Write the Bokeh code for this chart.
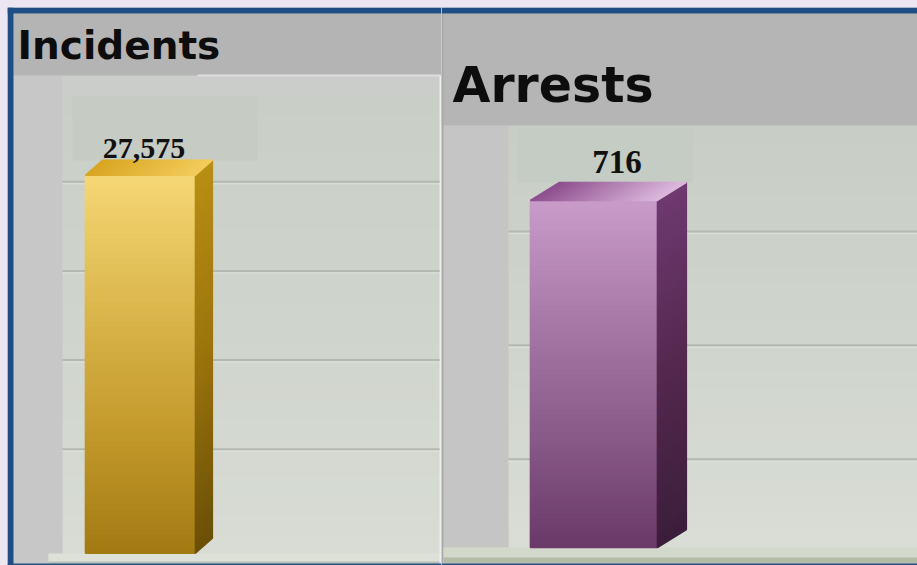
from bokeh.plotting import figure
from bokeh.models import Range1d, BoxAnnotation, Label
from bokeh.layouts import row
from bokeh.core.properties import value
from bokeh.embed import file_html
from bokeh.resources import INLINE

# ---- data ----
incident_labels = ["Incidents"]
incident_values = [27575]
incident_grid = [6500, 13000, 19500, 26000]

arrest_labels = ["Arrests"]
arrest_values = [716]
arrest_grid = [145, 380, 615]

PAGE_TOP = 7
H = 558
BLUE = "#1f4e85"


def hex2rgb(h):
    h = h.lstrip("#")
    return tuple(int(h[i:i + 2], 16) for i in (0, 2, 4))


def ramp(stops, t):
    n = len(stops) - 1
    pos = max(0.0, min(1.0, t)) * n
    i = min(int(pos), n - 1)
    f = pos - i
    a, b = hex2rgb(stops[i]), hex2rgb(stops[i + 1])
    return "#%02x%02x%02x" % tuple(round(a[k] + (b[k] - a[k]) * f) for k in range(3))


def make_panel(title, labels, values, grid_vals, W, page_left, xr, yr, st):
    p = figure(width=W, height=H, x_range=Range1d(*xr), y_range=Range1d(*yr),
               output_backend="svg", toolbar_location=None,
               x_axis_location=None, y_axis_location=None, min_border=0,
               outline_line_color=None, background_fill_color=st["wall"],
               border_fill_color=st["wall"])
    p.grid.visible = False
    sx = (xr[1] - xr[0]) / W
    sy = (yr[1] - yr[0]) / H

    def X(px):
        return xr[0] + (px - page_left) * sx

    def Y(py):
        return yr[1] - (py - PAGE_TOP) * sy

    def box(l, r, t, b, color, level="underlay"):
        p.add_layout(BoxAnnotation(left=X(l), right=X(r), top=Y(t), bottom=Y(b),
                                   fill_color=color, fill_alpha=1.0, line_color=None,
                                   level=level))

    # smooth wall gradient (background styling)
    wl, wr, wt, wb = st["wall_area"]
    NB = 24
    for k in range(NB):
        t0 = wt + (wb - wt) * k / NB
        t1 = wt + (wb - wt) * (k + 1) / NB + 1
        box(wl, wr, t0, t1, ramp(st["wall_grad"], (k + 0.5) / NB))

    for (l, r, t, b, c) in st["boxes"]:
        box(l, r, t, b, c)

    dx = st["depth"][0] * sx
    dy = st["depth"][1] * sy

    gl, gr = st["grid_x"]
    gy = [g + dy for g in grid_vals]
    p.segment(x0=[X(gl)] * len(gy), x1=[X(gr)] * len(gy), y0=gy, y1=gy,
              line_color=st["grid"], line_width=2)
    gy2 = [g + dy - 2 * sy for g in grid_vals]
    p.segment(x0=[X(gl)] * len(gy2), x1=[X(gr)] * len(gy2), y0=gy2, y1=gy2,
              line_color="#dfe2dc", line_width=1)

    N = 60
    LW = 1.4
    for i, v in enumerate(values):
        xl, xrt = i - 0.5, i + 0.5
        bots = [v * k / N for k in range(N)]
        tops = [v * (k + 1) / N for k in range(N)]
        cols = [ramp(st["front"], (k + 0.5) / N) for k in range(N)]
        p.quad(left=[xl] * N, right=[xrt] * N, bottom=bots, top=tops,
               fill_color=cols, line_color=cols, line_width=LW)
        sxs, sys, scol = [], [], []
        for k in range(N):
            y0, y1 = v * k / N, v * (k + 1) / N
            sxs.append([xrt, xrt + dx, xrt + dx, xrt])
            sys.append([y0, y0 + dy, y1 + dy, y1])
            scol.append(ramp(st["side"], (k + 0.5) / N))
        p.patches(xs=sxs, ys=sys, fill_color=scol, line_color=scol, line_width=LW)
        M = 30
        txs, tys, tcol = [], [], []
        for j in range(M):
            a0, a1 = j / M, (j + 1) / M
            txs.append([xl + a0, xl + a1, xl + a1 + dx, xl + a0 + dx])
            tys.append([v, v, v + dy, v + dy])
            tcol.append(ramp(st["top"], (j + 0.5) / M))
        p.patches(xs=txs, ys=tys, fill_color=tcol, line_color=tcol, line_width=LW)
        p.text(x=[i + st["label_dx"] * sx], y=[v + dy + st["label_pad"] * sy],
               text=[f"{v:,}"], text_align="center", text_baseline="alphabetic",
               text_font=value("Liberation Serif"), text_font_style="bold",
               text_font_size=st["label_size"], text_color="#111111")

    tx, ty = st["title_pos"]
    p.add_layout(Label(x=X(tx), y=Y(ty), text=title, text_font="DejaVu Sans",
                       text_font_style="bold", text_font_size=st["title_size"],
                       text_color="#0d0d0d", text_baseline="alphabetic", text_align="left"))

    for (l, r, t, b) in st["blue"]:
        box(l, r, t, b, BLUE, level="overlay")
    return p


left_style = dict(
    wall="#ccd1c9",
    wall_area=(62, 441, 95, 553),
    wall_grad=["#c9cec6", "#cfd4cc", "#d8dcd4"],
    boxes=[
        (13, 62, 75, 553, "#c6c7c6"),
        (62, 441, 75, 95, "#cbcdca"),
        (72, 257, 95, 160, "#c6ccc3"),
        (13, 441, 13, 75, "#b4b4b4"),
        (197, 440, 74, 76, "#dedede"),
        (13, 48, 553, 563, "#c6c7c6"),
        (48, 441, 553, 563, "#dde1d8"),
        (48, 441, 561, 563, "#b9c0b0"),
        (439, 441, 75, 563, "#eeeeee"),
    ],
    grid_x=(62, 439),
    grid="#b3b8b0",
    depth=(17, 15),
    front=["#a27a12", "#c49a2c", "#dcb84e", "#f6d775"],
    side=["#6b4f07", "#9a730c", "#b88e14"],
    top=["#d9a521", "#f2cc5c"],
    label_dx=3.5, label_pad=12, label_size="30px",
    title_pos=(17, 45), title_size="39px",
    blue=[(7, 441, 7, 13), (7, 13, 7, 565), (7, 441, 563, 565)],
)

right_style = dict(
    wall="#ccd1c9",
    wall_area=(508, 917, 125, 547),
    wall_grad=["#c8cec5", "#cfd4cc", "#d9ddd5"],
    boxes=[
        (441, 508, 125, 547, "#c5c5c5"),
        (517, 693, 127, 182, "#c5ccc3"),
        (441, 917, 13, 125, "#b5b5b5"),
        (441, 443, 13, 563, "#a9a9a9"),
        (443, 917, 547, 563, "#d3d9ca"),
        (443, 917, 557, 563, "#b4bca6"),
    ],
    grid_x=(508, 917),
    grid="#b3b8b0",
    depth=(29, 18),
    front=["#6a3968", "#8a5a89", "#a97aa8", "#c99bc9"],
    side=["#3b1e3b", "#55284f", "#6e3a70"],
    top=["#8c4e8d", "#dcb8dc"],
    label_dx=23, label_pad=20, label_size="33px",
    title_pos=(452, 85), title_size="49px",
    blue=[(441, 917, 7, 13), (441, 917, 563, 565)],
)

# left panel spans page x 7..441, right panel 441..917
p1 = make_panel("Incidents", incident_labels, incident_values, incident_grid,
                434, 7, (-1.2082, 2.737), (-893, 39813), left_style)
p2 = make_panel("Arrests", arrest_labels, arrest_values, arrest_grid,
                476, 441, (-1.2, 2.548), (-37, 1114), right_style)

layout = row(p1, p2, spacing=0)
html = file_html(layout, INLINE)
css = ("<style>html,body{background:#ebe6f2 !important;overflow:hidden !important;}"
       "body{padding:7px 0 0 7px !important;margin:0 !important;}</style>")
html = html.replace("</head>", css + "</head>", 1)
open("out.html", "w").write(html)
